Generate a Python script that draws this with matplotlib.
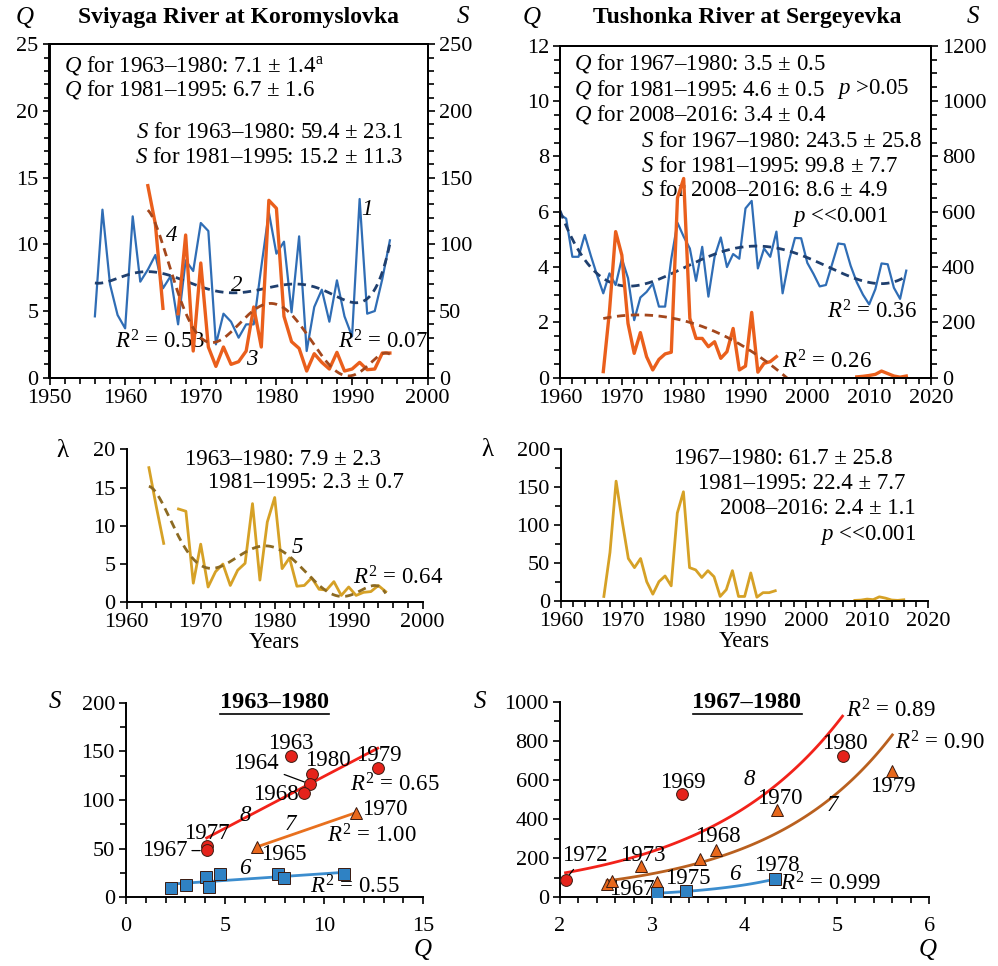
import numpy as np
import matplotlib
matplotlib.use('Agg')
import matplotlib.pyplot as plt
from matplotlib.ticker import MultipleLocator, NullLocator
from matplotlib.lines import Line2D

plt.rcParams['font.family'] = ['Liberation Serif', 'DejaVu Serif']
plt.rcParams['mathtext.fontset'] = 'custom'
plt.rcParams['mathtext.rm'] = 'Liberation Serif'
plt.rcParams['mathtext.it'] = 'Liberation Serif:italic'
plt.rcParams['mathtext.bf'] = 'Liberation Serif:bold'
FS = 16.5   # annotation text
TS = 16     # tick labels

nan = np.nan

# --- Sviyaga River at Koromyslovka ---
sv_q_years = np.arange(1956, 1996)
sv_q = [4.6, 12.6, 7.0, 4.7, 3.7, 12.1, 7.2, 8.1, 9.2, 6.7, 7.6, 4.0, 8.8, 8.0,
        11.6, 11.0, 2.5, 4.8, 4.2, 3.0, 4.0, 4.0, 8.3, 12.4, 9.3, 10.2, 4.9, 10.6,
        2.0, 5.3, 6.6, 4.2, 7.3, 4.6, 3.1, 13.4, 4.8, 5.0, 7.4, 10.3]
sv_s_years = np.arange(1963, 1996)
sv_s = [144, 115, 52, nan, 48, 107, 20, 86, 23, 8.5, 23, 10, 12, 20, 53, 23, 133,
        127, 46, 27, 22, 5, 18, 11.5, 6.5, 19, 5, 6.5, 11.5, 6, 6.5, 18.5, 18.5]
sv_lam = [17.6, 12.5, 7.7, nan, 12.2, 11.9, 2.5, 7.6, 2.0, 4.0, 5.0, 2.2, 4.2, 5.1,
          12.9, 2.9, 10.5, 13.7, 4.4, 5.8, 2.1, 2.2, 3.2, 1.7, 1.6, 2.7, 0.9, 2.0,
          0.9, 1.3, 1.4, 2.2, 1.4]

# --- Tushonka River at Sergeyevka ---
tu_q_years = np.arange(1960, 2017)
tu_q = [5.9, 5.75, 4.37, 4.37, 5.16, 4.4, 3.7, 3.05, 3.77, 3.35, 4.3, 3.6, 2.08,
        2.9, 3.1, 3.4, 2.57, 2.57, 4.3, 5.6, 5.1, 4.67, 3.5, 4.73, 2.93, 4.37,
        5.07, 4.0, 4.47, 4.3, 6.12, 6.39, 3.95, 4.67, 4.37, 5.28, 3.05, 4.2, 5.05,
        5.04, 4.15, 3.75, 3.3, 3.35, 4.1, 4.85, 4.82, 4.05, 3.45, 3.0, 2.65, 3.2,
        4.13, 4.1, 3.25, 2.85, 3.87]
tu_years_a = np.arange(1967, 1996)
tu_years_b = np.arange(2008, 2017)
tu_s_a = [22, 240, 528, 443, 196, 88, 163, 76, 28, 66, 86, 92, 650, 720, 215, 142,
          142, 112, 130, 70, 94, 178, 28, 42, 236, 20, 52, 58, 76]
tu_s_b = [3, 5, 8, 12, 24, 15, 6, 2, 6]
tu_lam_a = [6, 64, 158, 105, 56, 44, 56, 25.5, 9, 25.5, 33, 20, 116, 144, 44, 41,
            31, 40, 32, 6, 15, 40, 6, 6, 37, 5, 11, 11, 13.5]
tu_lam_b = [0.8, 1.2, 2.5, 1.8, 5.5, 3.8, 1.3, 0.8, 1.6]

# --- S vs Q, Sviyaga 1963-1980 ---
bl_red_q = [8.3, 9.4, 9.3, 9.0, 12.7, 4.07, 4.07]
bl_red_s = [145, 127, 116, 107, 133, 53, 49]
bl_tri_q = [6.63, 11.6]
bl_tri_s = [52, 87]
bl_sq_q = [2.27, 3.03, 4.04, 4.2, 4.74, 7.65, 7.95, 11.0]
bl_sq_s = [10, 13, 21, 11, 23.5, 23.5, 20, 23.5]

# --- S vs Q, Tushonka 1967-1980 ---
br_red_q = [2.06, 3.32, 5.06]
br_red_s = [89, 526, 722]
br_tri_q = [2.51, 2.56, 2.88, 3.05, 3.52, 3.69, 4.35, 5.6]
br_tri_s = [68, 83, 160, 80, 196, 242, 446, 647]
br_sq_q = [3.05, 3.36, 4.33]
br_sq_s = [20, 32, 92]

BLUE = '#2F6DB5'
ORANGE = '#EA5F1C'
NAVY = '#1F3F6E'
BROWN = '#A4471C'
GOLD = '#D6A126'
OLIVE = '#8C6A22'
DASH = (0, (3, 2))

W, H = 998, 966
fig = plt.figure(figsize=(W / 100, H / 100), dpi=100)


def box(l, t, r, b):
    return fig.add_axes([l / W, 1 - b / H, (r - l) / W, (b - t) / H])


def ftext(x, y, s, **kw):
    kw.setdefault('ha', 'center')
    kw.setdefault('va', 'center')
    kw.setdefault('fontsize', FS)
    return fig.text(x / W, 1 - y / H, s, **kw)


def style(ax, full=False):
    for sp in ax.spines.values():
        sp.set_linewidth(1.4)
    if not full:
        ax.spines['top'].set_visible(False)
        ax.spines['right'].set_visible(False)
    ax.tick_params(which='both', direction='out', width=1.2, labelsize=TS, pad=3)
    ax.tick_params(which='major', length=5)
    ax.tick_params(which='minor', length=4)


def ticks(ax, xmaj, xmin, ymaj, ymin):
    ax.xaxis.set_major_locator(MultipleLocator(xmaj))
    ax.xaxis.set_minor_locator(MultipleLocator(xmin) if xmin else NullLocator())
    ax.yaxis.set_major_locator(MultipleLocator(ymaj))
    ax.yaxis.set_minor_locator(MultipleLocator(ymin) if ymin else NullLocator())


def trend(x, y, deg, xs):
    x = np.asarray(x, float)
    y = np.asarray(y, float)
    ok = ~np.isnan(y)
    x0 = x[ok].mean()
    p = np.polyfit(x[ok] - x0, y[ok], deg)
    return np.polyval(p, xs - x0)


def txt(ax, x, y, s, **kw):
    kw.setdefault('fontsize', FS)
    kw.setdefault('va', 'center')
    return ax.text(x, y, s, **kw)


# ================= top left =================
ax = box(49.5, 44.3, 427.7, 377.7)
style(ax, full=True)
ax.plot(sv_q_years, sv_q, color=BLUE, lw=1.6)
xs = np.linspace(1956, 1995, 200)
ax.plot(xs, trend(sv_q_years, sv_q, 6, xs), color=NAVY, lw=2, ls=DASH)
ax.set_xlim(1950, 2000)
ax.set_ylim(0, 25)
ticks(ax, 10, 2, 5, 1)
ax2 = ax.twinx()
style(ax2, full=True)
ax2.plot(sv_s_years, sv_s, color=ORANGE, lw=2.4)
xs = np.linspace(1963, 1995, 200)
ax2.plot(xs, trend(sv_s_years, sv_s, 6, xs), color=BROWN, lw=2, ls=DASH)
ax2.set_ylim(0, 250)
ax2.yaxis.set_major_locator(MultipleLocator(50))
ax2.yaxis.set_minor_locator(MultipleLocator(10))

txt(ax, 1951.9, 23.4, r'$Q$ for 1963–1980: 7.1 ± 1.4$^{\mathrm{a}}$')
txt(ax, 1951.9, 21.6, r'$Q$ for 1981–1995: 6.7 ± 1.6')
txt(ax, 1996.8, 18.4, r'$S$ for 1963–1980: 59.4 ± 23.1', ha='right')
txt(ax, 1996.8, 16.5, r'$S$ for 1981–1995: 15.2 ± 11.3', ha='right')
txt(ax, 1992.0, 12.6, '1', style='italic', ha='center')
txt(ax, 1974.8, 6.9, '2', style='italic', ha='center')
txt(ax, 1976.8, 1.4, '3', style='italic', ha='center')
txt(ax, 1966.1, 10.7, '4', style='italic', ha='center')
txt(ax, 1958.6, 2.7, r'$R^2$ = 0.53')
txt(ax, 2000.0, 2.7, r'$R^2$ = 0.07', ha='right')

ftext(238, 18, 'Sviyaga River at Koromyslovka', fontweight='bold', fontsize=17)
ftext(25, 17, r'$Q$', fontsize=18)
ftext(463, 17, r'$S$', fontsize=18)

# ================= top right =================
ax = box(560, 45.7, 931, 377.7)
style(ax, full=True)
ax.plot(tu_q_years, tu_q, color=BLUE, lw=1.6)
xs = np.linspace(1960, 2016, 200)
ax.plot(xs, trend(tu_q_years, tu_q, 4, xs), color=NAVY, lw=2, ls=DASH)
ax.set_xlim(1960, 2020)
ax.set_ylim(0, 12)
ticks(ax, 10, 2, 2, 0.5)
ax2 = ax.twinx()
style(ax2, full=True)
ax2.plot(tu_years_a, tu_s_a, color=ORANGE, lw=2.4)
ax2.plot(tu_years_b, tu_s_b, color=ORANGE, lw=2.4)
xs = np.linspace(1967, 2000, 200)
ax2.plot(xs, trend(tu_years_a, tu_s_a, 2, xs), color=BROWN, lw=2, ls=DASH)
ax2.set_ylim(0, 1200)
ax2.yaxis.set_major_locator(MultipleLocator(200))
ax2.yaxis.set_minor_locator(MultipleLocator(50))

txt(ax, 1962.3, 11.34, r'$Q$ for 1967–1980: 3.5 ± 0.5')
txt(ax, 1962.3, 10.43, r'$Q$ for 1981–1995: 4.6 ± 0.5')
txt(ax, 2004.8, 10.43, r'$p$ >0.05')
txt(ax, 1962.3, 9.53, r'$Q$ for 2008–2016: 3.4 ± 0.4')
txt(ax, 1973.1, 8.52, r'$S$ for 1967–1980: 243.5 ± 25.8')
txt(ax, 1973.1, 7.65, r'$S$ for 1981–1995: 99.8 ± 7.7')
txt(ax, 1973.1, 6.75, r'$S$ for 2008–2016: 8.6 ± 4.9')
txt(ax, 1997.5, 5.8, r'$p$ <<0.001')
txt(ax, 2017.7, 2.37, r'$R^2$ = 0.36', ha='right')
txt(ax, 1995.9, 0.57, r'$R^2$ = 0.26')

ftext(747, 18, 'Tushonka River at Sergeyevka', fontweight='bold', fontsize=17)
ftext(532, 17, r'$Q$', fontsize=18)
ftext(973, 17, r'$S$', fontsize=18)

# ================= middle left =================
ax = box(126.7, 449.3, 422.7, 602.3)
style(ax)
ax.plot(sv_s_years, sv_lam, color=GOLD, lw=2)
xs = np.linspace(1963, 1995, 200)
ax.plot(xs, trend(sv_s_years, sv_lam, 6, xs), color=OLIVE, lw=2, ls=DASH)
ax.set_xlim(1960, 2000)
ax.set_ylim(0, 20)
ticks(ax, 10, 2, 5, None)
txt(ax, 1994.4, 18.7, '1963–1980: 7.9 ± 2.3', ha='right')
txt(ax, 1997.5, 15.6, '1981–1995: 2.3 ± 0.7', ha='right')
txt(ax, 1983.1, 7.1, '5', style='italic', ha='center')
txt(ax, 1990.6, 3.2, r'$R^2$ = 0.64')
ax.set_xlabel('Years', fontsize=FS, labelpad=0)
ftext(62, 451, 'λ', fontsize=18)

# ================= middle right =================
ax = box(561, 449.3, 928.3, 601)
style(ax)
ax.plot(tu_years_a, tu_lam_a, color=GOLD, lw=2)
ax.plot(tu_years_b, tu_lam_b, color=GOLD, lw=2)
ax.set_xlim(1960, 2020)
ax.set_ylim(0, 200)
ticks(ax, 10, 2, 50, 25)
txt(ax, 2014.2, 188, '1967–1980: 61.7 ± 25.8', ha='right')
txt(ax, 2016.2, 155, '1981–1995: 22.4 ± 7.7', ha='right')
txt(ax, 2018.0, 122, '2008–2016: 2.4 ± 1.1', ha='right')
txt(ax, 2018.0, 87, r'$p$ <<0.001', ha='right')
ax.set_xlabel('Years', fontsize=FS, labelpad=0)
ftext(487, 450, 'λ', fontsize=18)

# ================= bottom left =================
MK = dict(markersize=8.5, markeredgecolor='#3A1A10', markeredgewidth=0.7, ls='none', zorder=4)
ax = box(126, 702.7, 423.3, 897.3)
style(ax)
for qv, sv, col, lc, mk in [(bl_red_q, bl_red_s, '#E5231B', '#F2221A', 'o'),
                            (bl_tri_q, bl_tri_s, '#E8681C', '#E8701E', '^'),
                            (bl_sq_q, bl_sq_s, '#2F82C4', '#3C8DCE', 's')]:
    p = np.polyfit(qv, sv, 1)
    xs = np.linspace(min(qv), max(qv), 50)
    ax.plot(xs, np.polyval(p, xs), color=lc, lw=2, zorder=3)
    ax.plot(qv, sv, marker=mk, color=col, **MK)
ax.set_xlim(0, 15)
ax.set_ylim(0, 200)
ticks(ax, 5, 1, 50, 25)
ax.tick_params(axis='x', pad=9)
txt(ax, 8.32, 158, '1963', ha='center')
txt(ax, 10.2, 141, '1980', ha='center')
ax.annotate('1964', xy=(9.2, 117), xytext=(6.56, 137), fontsize=FS, ha='center', va='center',
            arrowprops=dict(arrowstyle='-', lw=0.9, color='black', shrinkA=2, shrinkB=3))
txt(ax, 7.57, 106, '1968', ha='center')
txt(ax, 12.76, 146, '1979', ha='center')
txt(ax, 13.57, 116, r'$R^2$ = 0.65', ha='center')
txt(ax, 4.07, 66, '1977', ha='center')
ax.annotate('1967', xy=(3.95, 48), xytext=(1.97, 48), fontsize=FS, ha='center', va='center',
            arrowprops=dict(arrowstyle='-', lw=0.9, color='black', shrinkA=1, shrinkB=3))
txt(ax, 6.0, 83.6, '8', style='italic', ha='center')
txt(ax, 8.3, 75, '7', style='italic', ha='center')
txt(ax, 11.9, 90, '1970', ha='left')
txt(ax, 12.4, 63, r'$R^2$ = 1.00', ha='center')
txt(ax, 7.94, 44.5, '1965', ha='center')
txt(ax, 6.0, 30, '6', style='italic', ha='center')
txt(ax, 11.55, 11, r'$R^2$ = 0.55', ha='center')
ftext(55, 702, r'$S$', fontsize=18)
ftext(423, 950, r'$Q$', fontsize=18)

# ================= bottom right =================
ax = box(560, 701.7, 929.3, 897.3)
style(ax)
for qv, sv, col, lc, mk in [(br_red_q, br_red_s, '#E5231B', '#F2221A', 'o'),
                            (br_tri_q, br_tri_s, '#E8681C', '#B9601F', '^'),
                            (br_sq_q, br_sq_s, '#2F82C4', '#3C8DCE', 's')]:
    p = np.polyfit(qv, np.log(sv), 1)
    xs = np.linspace(min(qv), max(qv), 100)
    ax.plot(xs, np.exp(np.polyval(p, xs)), color=lc, lw=2, zorder=3)
    ax.plot(qv, sv, marker=mk, color=col, **MK)
ax.set_xlim(2, 6)
ax.set_ylim(0, 1000)
ticks(ax, 1, 0.2, 200, 100)
ax.tick_params(axis='x', pad=9)
ax.annotate('1972', xy=(2.07, 97), xytext=(2.27, 216), fontsize=FS, ha='center', va='center',
            arrowprops=dict(arrowstyle='-', lw=0.9, color='black', shrinkA=1, shrinkB=3))
txt(ax, 3.33, 588, '1969', ha='center')
txt(ax, 4.05, 603, '8', style='italic', ha='center')
txt(ax, 5.1, 954, r'$R^2$ = 0.89', ha='left')
txt(ax, 5.08, 784, '1980', ha='center')
txt(ax, 5.63, 787, r'$R^2$ = 0.90', ha='left')
txt(ax, 5.61, 569, '1979', ha='center')
txt(ax, 4.38, 506, '1970', ha='center')
txt(ax, 4.95, 467, '7', style='italic', ha='center')
txt(ax, 3.71, 310, '1968', ha='center')
txt(ax, 2.9, 216, '1973', ha='center')
txt(ax, 3.02, 41, '1967', ha='right')
txt(ax, 3.38, 97, '1975', ha='center')
txt(ax, 3.89, 118, '6', style='italic', ha='center')
txt(ax, 4.35, 165, '1978', ha='center')
txt(ax, 4.38, 68, r'$R^2$ = 0.999', ha='left')
ftext(480, 702, r'$S$', fontsize=18)
ftext(928, 950, r'$Q$', fontsize=18)

# underlined panel titles
fig.canvas.draw()
for x, y, s in [(274, 702, '1963–1980'), (747, 702, '1967–1980')]:
    t = ftext(x, y, s, fontweight='bold', fontsize=17.5)
    bb = t.get_window_extent(renderer=fig.canvas.get_renderer())
    fig.add_artist(Line2D([bb.x0 / W, bb.x1 / W], [(bb.y0 - 1) / H, (bb.y0 - 1) / H],
                          color='black', lw=1.2, transform=fig.transFigure))

fig.savefig('out.png', dpi=100)
